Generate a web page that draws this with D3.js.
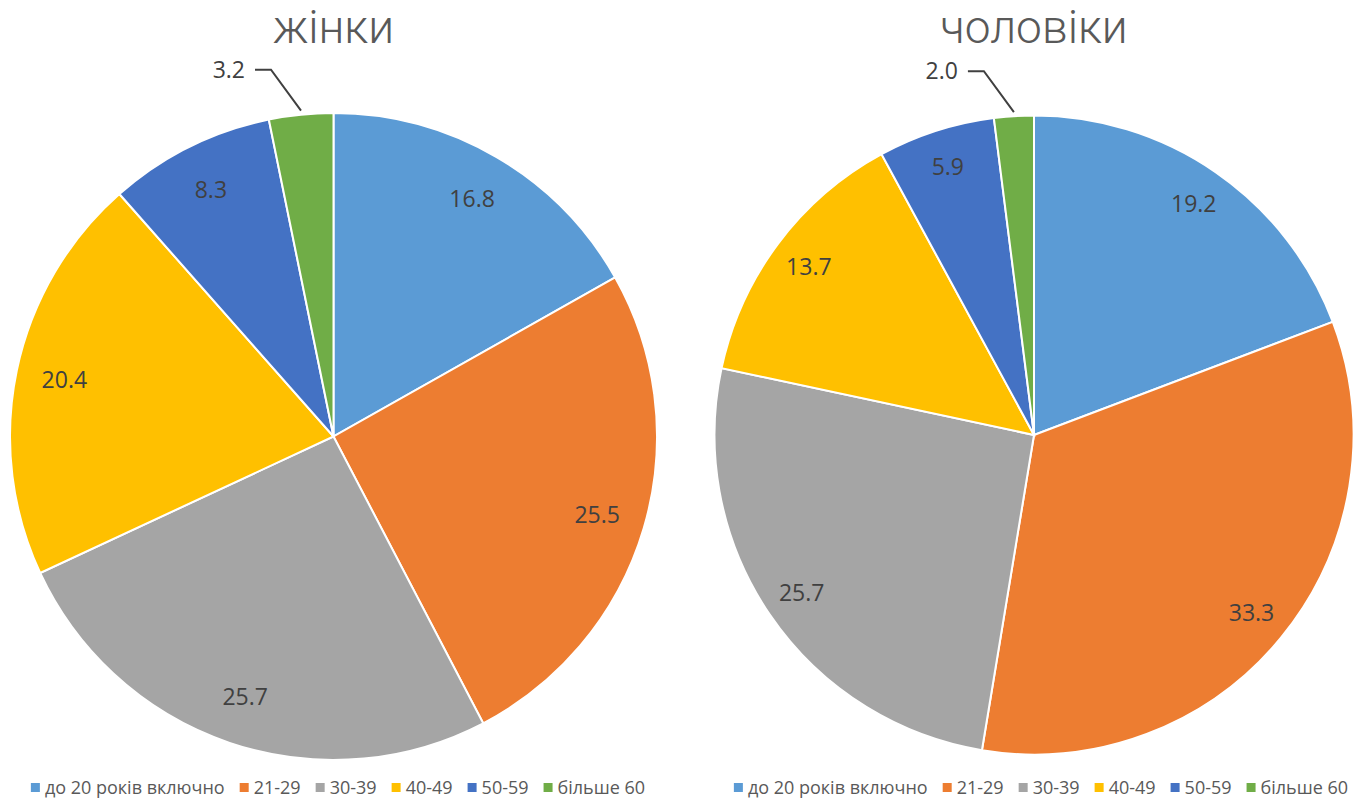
<!DOCTYPE html>
<html>
<head>
<meta charset="utf-8">
<script src="https://cdn.jsdelivr.net/npm/d3@7"></script>
<style>
  body { margin: 0; background: #fff; }
  text { font-family: "Open Sans", "DejaVu Sans", sans-serif; }
</style>
</head>
<body>
<div id="chart"></div>
<script>
// data
var categories = ["до 20 років включно", "21-29", "30-39", "40-49", "50-59", "більше 60"];
var colors = ["#5B9BD5", "#ED7D31", "#A5A5A5", "#FFC000", "#4472C4", "#70AD47"];
var women = [16.8, 25.5, 25.7, 20.4, 8.3, 3.2];
var men = [19.2, 33.3, 25.7, 13.7, 5.9, 2.0];
var titles = ["жінки", "чоловіки"];

var width = 1367, height = 800;

var svg = d3.select("#chart")
  .append("svg")
    .attr("width", width)
    .attr("height", height);

var charts = [
  {title: titles[0], values: women, cx: 333.5, cy: 436.5, r: 323.5, legendX: 338, labelK: 0.85},
  {title: titles[1], values: men, cx: 1034, cy: 435, r: 319.5, legendX: 1041, labelK: 0.88}
];

var pie = d3.pie().sort(null).value(function(d) { return d; });
var color = d3.scaleOrdinal().domain(categories).range(colors);

charts.forEach(function(c) {
  var g = svg.append("g").attr("transform", "translate(" + c.cx + "," + c.cy + ")");
  var arc = d3.arc().innerRadius(0).outerRadius(c.r);
  var labelArc = d3.arc().innerRadius(c.r * c.labelK).outerRadius(c.r * c.labelK);
  var arcs = pie(c.values);

  g.selectAll("path")
    .data(arcs)
    .enter().append("path")
    .attr("d", arc)
    .style("fill", function(d, i) { return color(categories[i]); })
    .style("stroke", "#fff")
    .style("stroke-width", "2px");

  // inside labels (small slices go outside with a leader line)
  arcs.forEach(function(d) {
    var ang = (d.startAngle + d.endAngle) / 2;
    if (d.value < 4) {
      var ex = Math.sin(ang) * c.r, ey = -Math.cos(ang) * c.r;
      var bx = ex - 30, by = ey - 45;
      var hx = bx - 16;
      g.append("path")
        .attr("d", "M" + ex + "," + (ey - 4) + "L" + bx + "," + by + "L" + hx + "," + by)
        .style("fill", "none")
        .style("stroke", "#404040")
        .style("stroke-width", "2px");
      g.append("text")
        .attr("x", hx - 10)
        .attr("y", by)
        .attr("dy", "0.35em")
        .attr("text-anchor", "end")
        .style("font-size", "23px")
        .style("fill", "#404040")
        .text(d.value.toFixed(1));
    } else {
      var p = labelArc.centroid(d);
      g.append("text")
        .attr("x", p[0])
        .attr("y", p[1])
        .attr("dy", "0.35em")
        .attr("text-anchor", "middle")
        .style("font-size", "23px")
        .style("fill", "#404040")
        .text(d.value.toFixed(1));
    }
  });

  svg.append("text")
    .attr("x", c.cx)
    .attr("y", 43)
    .attr("text-anchor", "middle")
    .style("font-family", "Roboto, sans-serif")
    .style("font-weight", "300")
    .style("font-size", "46px")
    .style("fill", "#595959")
    .text(c.title);

  // legend, laid out by measured text widths
  var lg = svg.append("g");
  var x = 0;
  categories.forEach(function(cat, i) {
    lg.append("rect")
      .attr("x", x).attr("y", 783)
      .attr("width", 9).attr("height", 9)
      .style("fill", colors[i]);
    var t = lg.append("text")
      .attr("x", x + 14).attr("y", 794)
      .style("font-size", "18px")
      .style("fill", "#595959")
      .text(cat);
    x += 14 + t.node().getComputedTextLength() + 15;
  });
  var total = x - 15;
  lg.attr("transform", "translate(" + (c.legendX - total / 2) + ",0)");
});
</script>
</body>
</html>
